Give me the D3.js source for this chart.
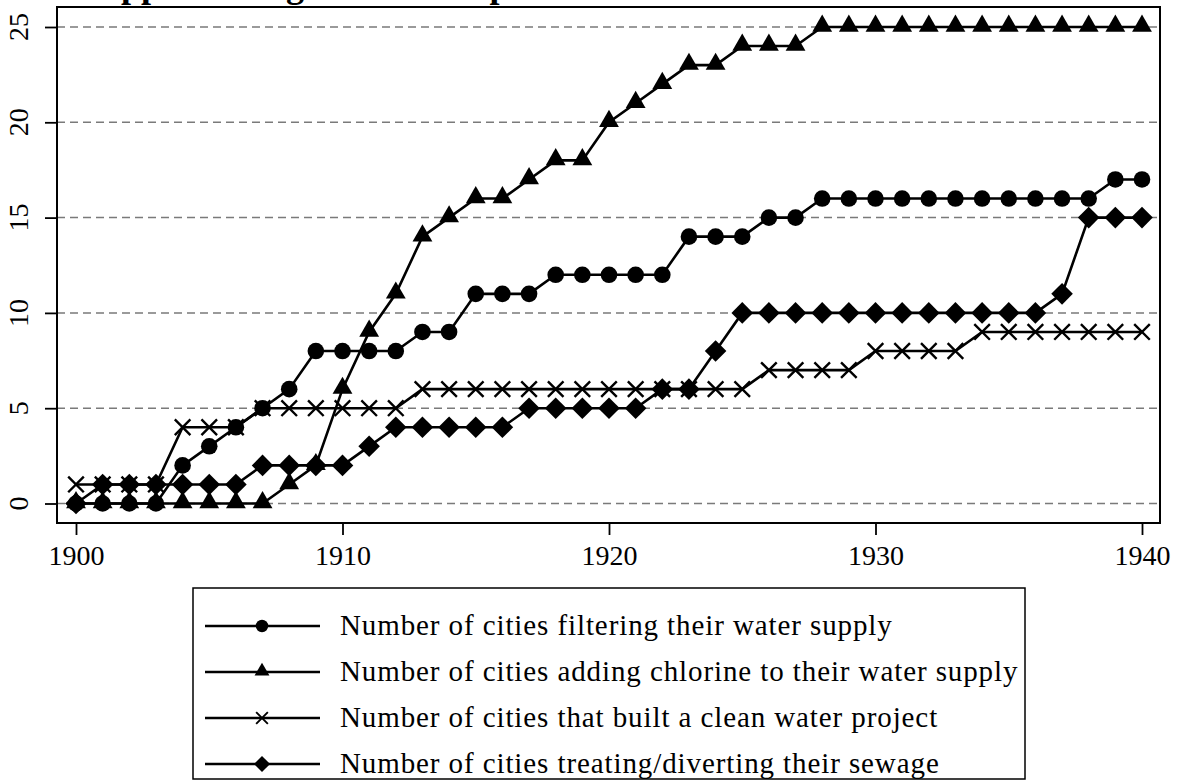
<!DOCTYPE html>
<html>
<head>
<meta charset="utf-8">
<script src="https://cdn.jsdelivr.net/npm/d3@7"></script>
<style>
  html, body { margin: 0; padding: 0; background: #fff; }
  svg { display: block; }
  text { font-family: "Liberation Serif", "Times New Roman", serif; fill: #000; }
</style>
</head>
<body>
<svg id="chart" width="1180" height="781"></svg>
<script>
// ---- Data ----
const titleText = "Appendix Figure A1: Adoption of Urban Health Measures";
const years = [1900,1901,1902,1903,1904,1905,1906,1907,1908,1909,
               1910,1911,1912,1913,1914,1915,1916,1917,1918,1919,
               1920,1921,1922,1923,1924,1925,1926,1927,1928,1929,
               1930,1931,1932,1933,1934,1935,1936,1937,1938,1939,1940];
const filtering = [0,0,0,0,2,3,4,5,6,8, 8,8,8,9,9,11,11,11,12,12, 12,12,12,14,14,14,15,15,16,16, 16,16,16,16,16,16,16,16,16,17,17];
const chlorine  = [0,0,0,0,0,0,0,0,1,2, 6,9,11,14,15,16,16,17,18,18, 20,21,22,23,23,24,24,24,25,25, 25,25,25,25,25,25,25,25,25,25,25];
const cleanProj = [1,1,1,1,4,4,4,5,5,5, 5,5,5,6,6,6,6,6,6,6, 6,6,6,6,6,6,7,7,7,7, 8,8,8,8,9,9,9,9,9,9,9];
const sewage    = [0,1,1,1,1,1,1,2,2,2, 2,3,4,4,4,4,4,5,5,5, 5,5,6,6,8,10,10,10,10,10, 10,10,10,10,10,10,10,11,15,15,15];
const xTicks = [1900, 1910, 1920, 1930, 1940];
const yTicks = [0, 5, 10, 15, 20, 25];
const seriesNames = [
  "Number of cities filtering their water supply",
  "Number of cities adding chlorine to their water supply",
  "Number of cities that built a clean water project",
  "Number of cities treating/diverting their sewage"
];
const seriesValues = [filtering, chlorine, cleanProj, sewage];
const seriesSymbols = ["circle", "triangle", "x", "diamond"];
// draw order (bottom -> top)
const drawOrder = [1, 2, 0, 3];

// ---- Layout ----
const svg = d3.select("#chart");
const frame = { left: 57, top: 7, right: 1160, bottom: 523 };
const x = d3.scaleLinear().domain([1900, 1940]).range([76, 1142]);
const y = d3.scaleLinear().domain([0, 25]).range([503.5, 27]);

// title (mostly above the visible page, as in the reference)
svg.append("text")
  .attr("x", 95).attr("y", -3)
  .style("font-size", "36px").style("font-weight", "bold")
  .text(titleText);

// gridlines
svg.append("g").selectAll("line").data(yTicks).join("line")
  .attr("x1", frame.left).attr("x2", frame.right)
  .attr("y1", d => y(d)).attr("y2", d => y(d))
  .attr("stroke", "#7a7a7a").attr("stroke-width", 1.5)
  .attr("stroke-dasharray", "8,5");

// frame
svg.append("rect")
  .attr("x", frame.left).attr("y", frame.top)
  .attr("width", frame.right - frame.left).attr("height", frame.bottom - frame.top)
  .attr("fill", "none").attr("stroke", "#000").attr("stroke-width", 2);

// x axis
const xAxis = svg.append("g")
  .attr("transform", `translate(0,${frame.bottom})`)
  .call(d3.axisBottom(x).tickValues(xTicks).tickFormat(d3.format("d")).tickSize(12).tickPadding(10));
xAxis.select(".domain").remove();
xAxis.selectAll(".tick line").attr("stroke", "#000").attr("stroke-width", 1.8);
xAxis.selectAll(".tick text").style("font-size", "28px").style("font-family", "Liberation Serif, serif");

// y axis
const yAxis = svg.append("g")
  .attr("transform", `translate(${frame.left},0)`)
  .call(d3.axisLeft(y).tickValues(yTicks).tickSize(12).tickFormat(""));
yAxis.select(".domain").remove();
yAxis.selectAll(".tick line").attr("stroke", "#000").attr("stroke-width", 1.8);
svg.append("g").selectAll("text").data(yTicks).join("text")
  .attr("transform", d => `translate(28,${y(d)}) rotate(-90)`)
  .attr("text-anchor", "middle")
  .style("font-size", "28px")
  .text(d => d);

// symbols
function drawSymbol(g, type, scale) {
  const s = scale || 1;
  if (type === "circle") {
    g.append("circle").attr("r", 8.3 * s).attr("fill", "#000");
  } else if (type === "triangle") {
    g.append("path").attr("d", d3.symbol().type(d3.symbolTriangle).size(170 * s * s)).attr("fill", "#000")
      .attr("transform", `translate(0,${-1 * s})`);
  } else if (type === "diamond") {
    const r = 10.8 * s;
    g.append("path").attr("d", `M0,${-r}L${r},0L0,${r}L${-r},0Z`).attr("fill", "#000");
  } else if (type === "x") {
    const r = 7.8 * s;
    g.append("path").attr("d", `M${-r},${-r}L${r},${r}M${-r},${r}L${r},${-r}`)
      .attr("stroke", "#000").attr("stroke-width", 2.4 * Math.max(s, 0.8)).attr("fill", "none");
  }
}

const line = d3.line().x((d, i) => x(years[i])).y(d => y(d));
const plot = svg.append("g");
drawOrder.forEach(si => {
  const g = plot.append("g");
  g.append("path").datum(seriesValues[si]).attr("d", line)
    .attr("fill", "none").attr("stroke", "#000").attr("stroke-width", 2.6);
  seriesValues[si].forEach((v, i) => {
    const mg = g.append("g").attr("transform", `translate(${x(years[i])},${y(v)})`);
    drawSymbol(mg, seriesSymbols[si], 1);
  });
});

// legend
const legend = { left: 193, top: 588, right: 1025, bottom: 779, rowStart: 626, rowGap: 46 };
svg.append("rect")
  .attr("x", legend.left).attr("y", legend.top)
  .attr("width", legend.right - legend.left).attr("height", legend.bottom - legend.top)
  .attr("fill", "#fff").attr("stroke", "#000").attr("stroke-width", 1.5);
seriesNames.forEach((name, i) => {
  const ry = legend.rowStart + i * legend.rowGap;
  const g = svg.append("g");
  g.append("line").attr("x1", 205).attr("x2", 320).attr("y1", ry).attr("y2", ry)
    .attr("stroke", "#000").attr("stroke-width", 2.6);
  const mg = g.append("g").attr("transform", `translate(262,${ry})`);
  drawSymbol(mg, seriesSymbols[i], 0.75);
  g.append("text").attr("x", 340).attr("y", ry + 9)
    .style("font-size", "29px").style("letter-spacing", "0.9px").text(name);
});
</script>
</body>
</html>
